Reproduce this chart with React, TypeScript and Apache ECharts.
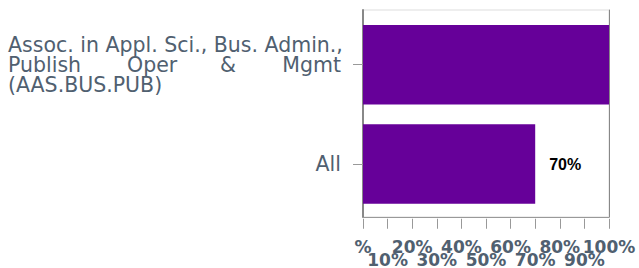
import React, { useEffect, useRef } from "react";
import * as echarts from "echarts";

const categories = ["All", "Assoc. in Appl. Sci., Bus. Admin., Publish Oper & Mgmt (AAS.BUS.PUB)"];
const values = [70, 100];
const xTickLabels = ["%", "10%", "20%", "30%", "40%", "50%", "60%", "70%", "80%", "90%", "100%"];

const LABEL_COLOR = "#506070";
const BAR_COLOR = "#660099";
const FS = 20.5;

export default function App() {
  const ref = useRef<HTMLDivElement>(null);
  useEffect(() => {
    if (!ref.current) return;
    const chart = echarts.init(ref.current, undefined, { renderer: "svg" });
    const tok = (width: number, align: string) => ({
      width,
      align,
      fontSize: FS,
      lineHeight: 20,
      color: LABEL_COLOR,
      fontFamily: "DejaVu Sans",
    });
    const tickAxis = (odd: boolean) => ({
      type: "value",
      gridIndex: 0,
      position: "bottom",
      min: 0,
      max: 100,
      interval: 10,
      offset: 5,
      axisLine: { show: false },
      axisTick: { show: !odd, length: 10, lineStyle: { color: "#999999" } },
      splitLine: { show: false },
      axisLabel: {
        margin: odd ? 34.5 : 22,
        fontSize: 17,
        fontWeight: "bold",
        fontFamily: "DejaVu Sans",
        color: LABEL_COLOR,
        lineHeight: 12.5,
        showMinLabel: true,
        showMaxLabel: true,
        formatter: (v: number) => {
          const i = Math.round(v / 10);
          const isOdd = i % 2 === 1;
          return isOdd === odd ? xTickLabels[i] ?? "" : "";
        },
      },
    });
    chart.setOption({
      animation: false,
      grid: [
        { left: 363, right: 30, top: 15, bottom: 53 },
        { left: 363, right: 30, top: 10, bottom: 51, show: true, borderColor: "#dddddd", borderWidth: 1, backgroundColor: "transparent" },
      ],
      xAxis: [
        tickAxis(false),
        {
          type: "value",
          gridIndex: 1,
          position: "bottom",
          min: 0,
          max: 100,
          axisLine: { show: true, lineStyle: { color: "#999999", width: 1 } },
          axisTick: { show: false },
          axisLabel: { show: false },
          splitLine: { show: false },
        },
        tickAxis(true),
      ],
      yAxis: [
        {
          type: "category",
          gridIndex: 0,
          data: categories,
          axisLine: { show: false },
          axisTick: { show: true, alignWithLabel: true, length: 10, lineStyle: { color: "#999999" } },
          axisLabel: {
            margin: 22,
            fontSize: FS,
            fontFamily: "DejaVu Sans",
            color: LABEL_COLOR,
            lineHeight: 20,
            formatter: (v: string) => {
              if (v === "All") return v;
              return (
                "{l|Assoc. in Appl. Sci., Bus. Admin.,}\n" +
                "{w1|Publish}{w2|Oper}{w3|&}{w4|Mgmt}\n" +
                "{l|(AAS.BUS.PUB)}"
              );
            },
            rich: {
              l: tok(333, "left"),
              w1: tok(119, "left"),
              w2: tok(93, "left"),
              w3: tok(65, "left"),
              w4: tok(56, "right"),
            },
          },
        },
        {
          type: "value",
          gridIndex: 1,
          min: 0,
          max: 1,
          position: "left",
          axisLine: { show: true, lineStyle: { color: "#888888", width: 2 } },
          axisTick: { show: false },
          axisLabel: { show: false },
          splitLine: { show: false },
        },
        {
          type: "value",
          gridIndex: 1,
          min: 0,
          max: 1,
          position: "right",
          axisLine: { show: true, lineStyle: { color: "#888888", width: 1 } },
          axisTick: { show: false },
          axisLabel: { show: false },
          splitLine: { show: false },
        },
      ],
      series: [
        {
          type: "bar",
          xAxisIndex: 0,
          yAxisIndex: 0,
          barCategoryGap: "20%",
          itemStyle: { color: BAR_COLOR },
          data: values.map((v, i) => ({
            value: v,
            label: { show: i === 0 },
          })),
          label: {
            position: "right",
            distance: 14,
            fontSize: 16,
            fontWeight: "bold",
            fontFamily: "Liberation Sans",
            color: "#000000",
            formatter: (p: any) => `${p.value}%`,
          },
        },
      ],
    });
    return () => chart.dispose();
  }, []);
  return <div ref={ref} style={{ width: 639, height: 268, position: "absolute", left: 0, top: 0 }} />;
}
